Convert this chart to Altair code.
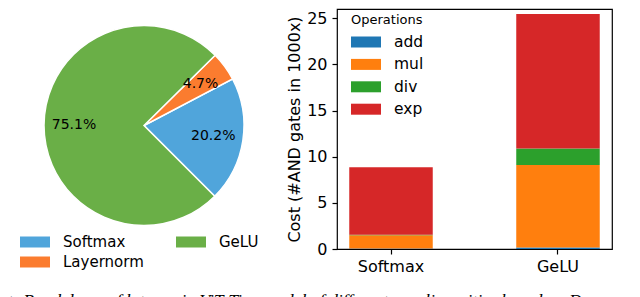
import math
import altair as alt
import pandas as pd

# ---- data ----
pie_labels = ["Softmax", "Layernorm", "GeLU"]
pie_values = [20.2, 4.7, 75.1]
pie_colors = ["#50a5db", "#fb7c2f", "#6aaf47"]
pie_draw_order = [1, 0, 2]          # clockwise order starting at the start angle

bar_categories = ["Softmax", "GeLU"]
ops = ["add", "mul", "div", "exp"]
op_colors = ["#1f77b4", "#ff7f0e", "#2ca02c", "#d62728"]
softmax_costs = [0.05, 1.45, 0.05, 7.30]
gelu_costs = [0.15, 8.95, 1.80, 14.55]
y_ticks = [0, 5, 10, 15, 20, 25]

caption = "t: Breakdown of latency in ViT-Tiny model of different non-linearities based on D"

pie_df = pd.DataFrame({
    "label": pie_labels,
    "value": pie_values,
    "order": pie_draw_order,
})
pie_df["pct"] = [f"{v:.1f}%" for v in pie_values]

rows = []
for cat, costs in zip(bar_categories, [softmax_costs, gelu_costs]):
    for i, (op, c) in enumerate(zip(ops, costs)):
        rows.append({"category": cat, "op": op, "op_idx": i, "cost": c})
bar_df = pd.DataFrame(rows)

RECT = "M-1,-0.55L2,-0.55L2,0.55L-1,0.55Z"
FONT = "DejaVu Sans"

start = math.radians(45.36)
theta_scale = alt.Scale(range=[start, start + 2 * math.pi])

base = alt.Chart(pie_df).encode(
    theta=alt.Theta("value:Q", stack=True, scale=theta_scale),
    order=alt.Order("order:Q"),
)
arcs = base.mark_arc(outerRadius=100, stroke="white", strokeWidth=1.5).encode(
    color=alt.Color(
        "label:N",
        scale=alt.Scale(domain=pie_labels, range=pie_colors),
        legend=alt.Legend(
            orient="none", legendX=12, legendY=223, columns=2, title=None,
            symbolType=RECT, symbolSize=400, symbolStrokeWidth=0, symbolOpacity=1,
            labelFont=FONT, labelFontSize=15, labelColor="black", labelOffset=23,
            columnPadding=32, rowPadding=2, padding=0,
        ),
    )
)
pct_text = base.mark_text(radius=70, font=FONT, fontSize=14, color="black").encode(
    text="pct:N"
)
pie = alt.layer(arcs, pct_text).properties(width=272, height=233)

bars = alt.Chart(bar_df).mark_bar().encode(
    x=alt.X(
        "category:N", sort=bar_categories,
        scale=alt.Scale(paddingInner=0.5, paddingOuter=0.0734),
        axis=alt.Axis(title=None, labelAngle=0, labelFont=FONT, labelFontSize=16,
                      labelColor="black", tickSize=5, tickWidth=1.2, tickColor="black",
                      labelPadding=4, domain=False, grid=False),
    ),
    y=alt.Y(
        "cost:Q", stack="zero",
        scale=alt.Scale(domain=[0, 26], nice=False),
        axis=alt.Axis(values=y_ticks, title="Cost (#AND gates in 1000x)",
                      titleFont=FONT, titleFontSize=16, titleFontWeight="normal",
                      titleColor="black", titlePadding=4,
                      labelFont=FONT, labelFontSize=16, labelColor="black",
                      tickSize=5, tickWidth=1.2, tickColor="black", labelPadding=5,
                      domain=False, grid=False),
    ),
    color=alt.Color(
        "op:N", scale=alt.Scale(domain=ops, range=op_colors),
        legend=alt.Legend(
            orient="none", legendX=14, legendY=5, title="Operations",
            titleFont=FONT, titleFontSize=13, titleFontWeight="normal", titleColor="black",
            titlePadding=5,
            symbolType=RECT, symbolSize=400, symbolStrokeWidth=0, symbolOpacity=1,
            labelFont=FONT, labelFontSize=15.5, labelColor="black", labelOffset=23,
            rowPadding=3.4, padding=0,
        ),
    ),
    order=alt.Order("op_idx:Q"),
).properties(
    width=275, height=240,
    view=alt.ViewBackground(stroke="black", strokeWidth=1.2),
)

chart = alt.hconcat(pie, bars, spacing=57, bounds="flush").resolve_scale(
    color="independent", theta="independent"
).properties(
    title=alt.TitleParams(
        caption, orient="bottom", anchor="start", font="Liberation Serif",
        fontStyle="italic", fontWeight="normal", fontSize=17.7, color="black",
        offset=17,
    )
).configure(padding=0).configure_view(stroke="transparent")

chart.save("out.html", embed_options={"renderer": "svg", "actions": False})
